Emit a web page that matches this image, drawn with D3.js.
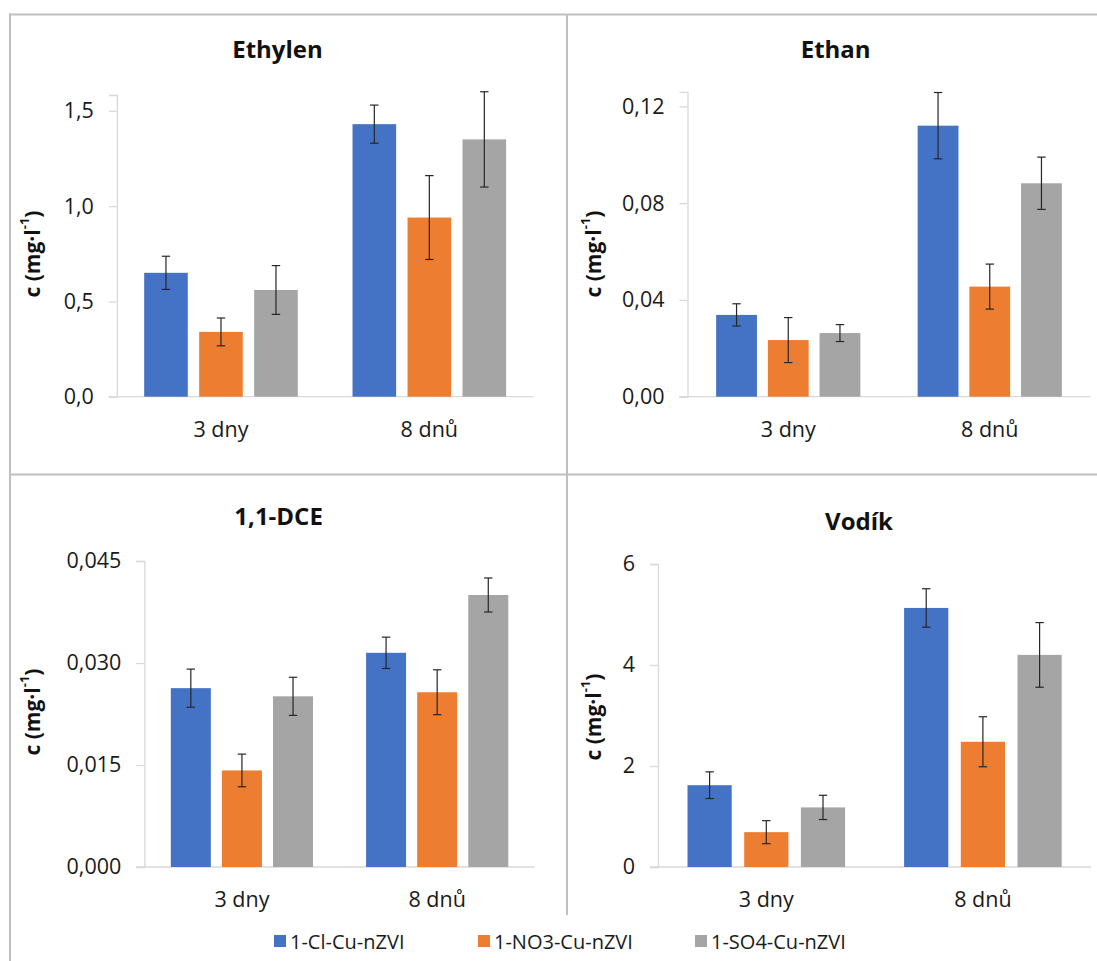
<!DOCTYPE html>
<html>
<head>
<meta charset="utf-8">
<script src="https://cdn.jsdelivr.net/npm/d3@7"></script>
<style>
  html, body { margin: 0; padding: 0; background: #fff; }
  svg { display: block; font-family: "Open Sans", sans-serif; }
</style>
</head>
<body>
<svg id="chart" width="1097" height="961"></svg>
<script>
// ---- data ----
const categories = ["3 dny", "8 dnů"];
const seriesNames = ["1-Cl-Cu-nZVI", "1-NO3-Cu-nZVI", "1-SO4-Cu-nZVI"];
const seriesColors = ["#4472C4", "#ED7D31", "#A5A5A5"];

// rows: series (Cl, NO3, SO4); columns: categories (3 dny, 8 dnů)
const ethylenMeans = [[0.65, 1.43], [0.34, 0.94], [0.56, 1.35]];
const ethylenErrors = [[0.087, 0.10], [0.073, 0.22], [0.128, 0.25]];
const ethylenTicks = [0, 0.5, 1.0, 1.5];

const ethanMeans = [[0.0338, 0.1120], [0.0234, 0.0455], [0.0263, 0.0882]];
const ethanErrors = [[0.0046, 0.0137], [0.0093, 0.0093], [0.0035, 0.0108]];
const ethanTicks = [0, 0.04, 0.08, 0.12];

const dceMeans = [[0.0263, 0.0315], [0.0142, 0.0257], [0.0251, 0.0400]];
const dceErrors = [[0.0028, 0.0023], [0.0024, 0.0033], [0.0028, 0.0025]];
const dceTicks = [0, 0.015, 0.030, 0.045];

const vodikMeans = [[1.62, 5.13], [0.69, 2.48], [1.18, 4.20]];
const vodikErrors = [[0.264, 0.38], [0.228, 0.495], [0.24, 0.64]];
const vodikTicks = [0, 2, 4, 6];

// ---- layout ----
const czLocale = d3.formatLocale({ decimal: ",", thousands: " ", grouping: [3], currency: ["", " Kč"] });

const panels = [
  { title: "Ethylen", means: ethylenMeans, errors: ethylenErrors, ticks: ethylenTicks, yMax: 1.583, fmt: czLocale.format(".1f"),
    left: 116.8, right: 533.5, base: 396.7, top: 95, barW: 43.6, barStep: 55,
    titleX: 277.5, titleY: 58, yLabelX: 32, yLabelY: 254, catY: 437 },
  { title: "Ethan", means: ethanMeans, errors: ethanErrors, ticks: ethanTicks, yMax: 0.126, fmt: czLocale.format(".2f"),
    left: 687.5, right: 1090.5, base: 396.7, top: 91.8, barW: 40.8, barStep: 51.7,
    titleX: 835.7, titleY: 58, yLabelX: 592.5, yLabelY: 254, catY: 437 },
  { title: "1,1-DCE", means: dceMeans, errors: dceErrors, ticks: dceTicks, yMax: 0.045, fmt: czLocale.format(".3f"),
    left: 144.3, right: 534.8, base: 867, top: 561, barW: 40, barStep: 51.1,
    titleX: 278.6, titleY: 525, yLabelX: 32, yLabelY: 712, catY: 907 },
  { title: "Vodík", means: vodikMeans, errors: vodikErrors, ticks: vodikTicks, yMax: 6, fmt: czLocale.format("d"),
    left: 658, right: 1091.2, base: 867, top: 564, barW: 44.2, barStep: 56.7,
    titleX: 859, titleY: 530, yLabelX: 592.5, yLabelY: 717, catY: 907 }
];

const svg = d3.select("#chart");

// panel frame lines
const frame = svg.append("g").attr("stroke", "#BFBFBF").attr("stroke-width", 2).attr("fill", "none");
frame.append("line").attr("x1", 9).attr("x2", 1097).attr("y1", 14.5).attr("y2", 14.5);
frame.append("line").attr("x1", 10).attr("x2", 10).attr("y1", 13.5).attr("y2", 961);
frame.append("line").attr("x1", 10).attr("x2", 1097).attr("y1", 474.5).attr("y2", 474.5);
frame.append("line").attr("x1", 567).attr("x2", 567).attr("y1", 14).attr("y2", 915);

panels.forEach(p => {
  const g = svg.append("g");
  const catW = (p.right - p.left) / categories.length;
  const groupW = 2 * p.barStep + p.barW;
  const pad = 1 - groupW / catW;

  const x0 = d3.scaleBand().domain(categories).range([p.left, p.right])
    .paddingInner(pad).paddingOuter(pad / 2);
  const x1 = d3.scaleBand().domain(seriesNames).range([0, x0.bandwidth()])
    .paddingInner(1 - p.barW / p.barStep).paddingOuter(0);
  const y = d3.scaleLinear().domain([0, p.yMax]).range([p.base, p.top]);

  // y axis
  const yAxis = g.append("g").attr("transform", `translate(${p.left},0)`)
    .call(d3.axisLeft(y).tickValues(p.ticks).tickFormat(p.fmt).tickSize(8).tickPadding(15));
  yAxis.select(".domain").attr("stroke", "#D9D9D9").attr("stroke-width", 1.3);
  yAxis.selectAll(".tick line").attr("stroke", "#D9D9D9").attr("stroke-width", 1.3);
  yAxis.selectAll(".tick text").attr("fill", "#1a1a1a").attr("font-size", 21.5)
    .attr("font-family", "'Open Sans', sans-serif");

  // category baseline
  g.append("line").attr("x1", p.left - 8).attr("x2", p.right).attr("y1", y(0)).attr("y2", y(0))
    .attr("stroke", "#D9D9D9").attr("stroke-width", 1.3);

  // bars
  const rows = [];
  seriesNames.forEach((s, si) => categories.forEach((c, ci) => {
    rows.push({ s, c, si, v: p.means[si][ci], e: p.errors[si][ci] });
  }));

  g.selectAll("rect.bar").data(rows).join("rect").attr("class", "bar")
    .attr("x", d => x0(d.c) + x1(d.s))
    .attr("width", x1.bandwidth())
    .attr("y", d => y(d.v))
    .attr("height", d => y(0) - y(d.v))
    .attr("fill", d => seriesColors[d.si]);

  // error bars
  const eb = g.append("g").attr("stroke", "#262626").attr("stroke-width", 1.2).attr("fill", "none");
  rows.forEach(d => {
    const cx = x0(d.c) + x1(d.s) + x1.bandwidth() / 2;
    const y1 = y(d.v + d.e), y2 = y(d.v - d.e);
    eb.append("line").attr("x1", cx).attr("x2", cx).attr("y1", y1).attr("y2", y2);
    eb.append("line").attr("x1", cx - 4.2).attr("x2", cx + 4.2).attr("y1", y1).attr("y2", y1);
    eb.append("line").attr("x1", cx - 4.2).attr("x2", cx + 4.2).attr("y1", y2).attr("y2", y2);
  });

  // category labels
  g.selectAll("text.cat").data(categories).join("text").attr("class", "cat")
    .attr("x", c => x0(c) + x0.bandwidth() / 2)
    .attr("y", p.catY)
    .attr("text-anchor", "middle").attr("font-size", 21.5).attr("fill", "#1a1a1a")
    .text(c => c);

  // title
  g.append("text").attr("x", p.titleX).attr("y", p.titleY)
    .attr("text-anchor", "middle").attr("font-size", 24).attr("font-weight", 700).attr("fill", "#111")
    .text(p.title);

  // y axis title: c (mg·l⁻¹)
  const yl = g.append("text")
    .attr("transform", `translate(${p.yLabelX},${p.yLabelY}) rotate(-90)`)
    .attr("text-anchor", "middle").attr("dominant-baseline", "central")
    .attr("font-size", 21).attr("font-weight", 700).attr("fill", "#111");
  yl.append("tspan").text("c (mg·l");
  yl.append("tspan").attr("dy", -8).attr("font-size", 13).text("-1");
  yl.append("tspan").attr("dy", 8).text(")");
});

// legend
const legendItems = [
  { name: seriesNames[0], color: seriesColors[0], x: 274 },
  { name: seriesNames[1], color: seriesColors[1], x: 478 },
  { name: seriesNames[2], color: seriesColors[2], x: 695 }
];
const lg = svg.append("g");
lg.selectAll("rect").data(legendItems).join("rect")
  .attr("x", d => d.x).attr("y", 935).attr("width", 12).attr("height", 12)
  .attr("fill", d => d.color);
lg.selectAll("text").data(legendItems).join("text")
  .attr("x", d => d.x + 16).attr("y", 948.5)
  .attr("font-size", 20).attr("fill", "#1a1a1a")
  .text(d => d.name);
</script>
</body>
</html>
